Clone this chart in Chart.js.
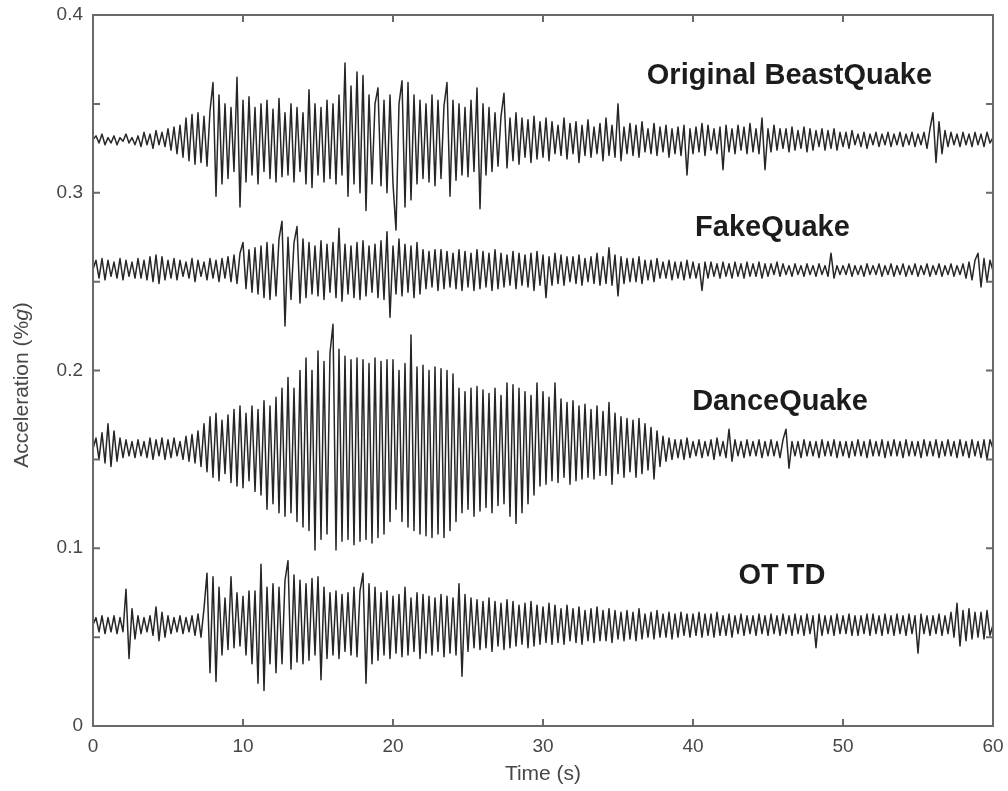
<!DOCTYPE html>
<html>
<head>
<meta charset="utf-8">
<title>Acceleration traces</title>
<script src="https://cdn.jsdelivr.net/npm/chart.js@4.4.0/dist/chart.umd.min.js"></script>
<style>
  html, body { margin: 0; padding: 0; background: #fff; }
  #wrap { width: 1008px; height: 791px; position: relative; }
</style>
</head>
<body>
<div id="wrap"><canvas id="quakeChart" width="1008" height="791"></canvas></div>
<script>
// Sampling step of the traces (s)
const sampleStep = 0.2;

// Acceleration (%g), one value every 0.2 s from 0 to 60 s
const beastQuake = [
  .330,.332,.328,.333,.327, .331,.328,.332,.327,.331,
  .329,.333,.328,.331,.327, .332,.326,.334,.327,.333,
  .325,.335,.327,.334,.326, .336,.324,.337,.322,.338,
  .320,.342,.318,.344,.316, .345,.317,.343,.315,.346,
  .362,.298,.355,.305,.350, .308,.348,.312,.365,.292,
  .352,.306,.354,.310,.348, .305,.350,.312,.352,.308,
  .347,.306,.353,.309,.345, .310,.350,.306,.348,.312,
  .345,.305,.358,.303,.350, .310,.348,.306,.352,.308,
  .350,.305,.355,.310,.373, .298,.360,.305,.368,.300,
  .366,.290,.355,.305,.350, .359,.304,.352,.300,.355,
  .305,.279,.350,.363,.292, .362,.296,.355,.305,.352,
  .308,.350,.306,.355,.304, .352,.308,.349,.362,.298,
  .352,.307,.350,.310,.348, .309,.352,.312,.359,.291,
  .350,.310,.348,.312,.345, .315,.343,.356,.314,.342,
  .318,.345,.316,.342,.320, .341,.317,.343,.319,.340,
  .320,.342,.318,.340,.322, .338,.321,.342,.319,.339,
  .322,.340,.317,.338,.321, .341,.320,.337,.322,.339,
  .318,.342,.321,.338,.320, .350,.318,.337,.322,.339,
  .321,.338,.320,.340,.323, .336,.322,.339,.321,.337,
  .323,.338,.320,.336,.322, .337,.321,.338,.310,.336,
  .322,.337,.323,.339,.321, .338,.324,.336,.322,.337,
  .313,.338,.323,.336,.322, .338,.324,.337,.322,.339,
  .323,.336,.322,.342,.313, .336,.323,.338,.324,.336,
  .325,.336,.323,.337,.324, .335,.325,.337,.323,.336,
  .324,.335,.326,.336,.324, .335,.325,.336,.324,.334,
  .326,.334,.325,.335,.327, .333,.326,.334,.325,.333,
  .327,.334,.326,.333,.327, .334,.326,.333,.327,.334,
  .326,.333,.327,.334,.326, .333,.327,.334,.325,.336,
  .345,.317,.340,.322,.335, .326,.334,.327,.333,.326,
  .334,.327,.333,.326,.334, .327,.333,.326,.334,.328,
  .331
];

const fakeQuake = [
  .257,.262,.252,.263,.251, .262,.253,.261,.252,.263,
  .251,.262,.253,.261,.252, .263,.252,.262,.251,.264,
  .250,.265,.249,.264,.251, .262,.252,.263,.251,.262,
  .253,.261,.252,.263,.250, .262,.253,.261,.251,.263,
  .252,.262,.250,.263,.252, .264,.250,.265,.249,.266,
  .272,.246,.268,.244,.269, .243,.270,.241,.272,.240,
  .271,.242,.274,.284,.225, .275,.240,.272,.281,.238,
  .274,.241,.272,.243,.270, .242,.273,.240,.271,.244,
  .272,.241,.280,.239,.271, .243,.270,.241,.272,.240,
  .273,.242,.270,.244,.271, .241,.273,.240,.278,.230,
  .270,.243,.274,.242,.271, .244,.270,.241,.272,.243,
  .268,.246,.267,.247,.268, .245,.268,.246,.267,.247,
  .266,.246,.268,.245,.267, .247,.266,.245,.268,.246,
  .267,.247,.266,.245,.268, .246,.266,.247,.265,.248,
  .267,.246,.266,.248,.265, .247,.266,.245,.267,.248,
  .265,.241,.264,.248,.266, .249,.265,.248,.264,.250,
  .264,.249,.265,.248,.263, .250,.264,.249,.266,.248,
  .264,.249,.269,.248,.265, .242,.264,.249,.263,.250,
  .263,.250,.264,.249,.262, .251,.262,.250,.263,.252,
  .261,.252,.262,.251,.261, .252,.261,.251,.262,.252,
  .261,.252,.260,.245,.261, .252,.261,.253,.260,.252,
  .261,.253,.260,.252,.261, .253,.260,.252,.261,.253,
  .260,.253,.261,.252,.260, .253,.260,.254,.261,.253,
  .260,.254,.259,.253,.260, .254,.259,.253,.260,.254,
  .259,.253,.260,.254,.259, .253,.266,.252,.259,.254,
  .259,.254,.260,.253,.259, .254,.259,.253,.260,.254,
  .259,.254,.260,.253,.259, .254,.260,.253,.259,.254,
  .260,.253,.259,.254,.260, .253,.259,.254,.260,.253,
  .259,.254,.260,.253,.259, .254,.260,.253,.259,.254,
  .260,.252,.261,.251,.262, .266,.247,.263,.250,.262,
  .256
];

const danceQuake = [
  .156,.162,.150,.165,.148, .170,.146,.166,.149,.162,
  .151,.161,.152,.160,.151, .161,.152,.160,.151,.162,
  .150,.161,.152,.162,.150, .161,.151,.162,.152,.160,
  .150,.163,.149,.164,.148, .166,.146,.170,.143,.174,
  .140,.176,.138,.172,.142, .175,.137,.178,.135,.180,
  .134,.176,.138,.180,.132, .178,.130,.183,.122,.180,
  .125,.185,.120,.190,.118, .196,.120,.190,.115,.200,
  .112,.207,.110,.200,.099, .211,.105,.205,.108,.210,
  .226,.099,.212,.104,.208, .105,.206,.102,.207,.104,
  .206,.105,.204,.103,.207, .106,.205,.108,.206,.115,
  .206,.122,.200,.115,.204, .112,.220,.110,.202,.108,
  .203,.107,.200,.106,.202, .108,.201,.106,.200,.110,
  .198,.115,.190,.120,.188, .122,.190,.118,.191,.121,
  .189,.123,.187,.120,.190, .124,.186,.125,.193,.118,
  .192,.114,.190,.120,.188, .125,.186,.130,.193,.135,
  .188,.136,.185,.138,.193, .137,.184,.140,.182,.136,
  .183,.138,.180,.139,.181, .140,.178,.139,.180,.141,
  .177,.141,.182,.136,.176, .142,.174,.140,.173,.143,
  .172,.140,.173,.142,.170, .144,.168,.139,.166,.146,
  .163,.149,.162,.150,.161, .151,.161,.150,.162,.151,
  .160,.152,.161,.151,.160, .152,.161,.150,.162,.152,
  .160,.151,.167,.149,.161, .152,.160,.151,.161,.152,
  .160,.152,.161,.151,.160, .152,.161,.152,.160,.151,
  .161,.167,.145,.160,.152, .160,.151,.161,.152,.160,
  .152,.160,.151,.161,.152, .160,.152,.161,.151,.160,
  .152,.160,.151,.160,.152, .161,.152,.160,.151,.161,
  .152,.160,.152,.161,.151, .160,.152,.161,.152,.160,
  .151,.161,.152,.160,.152, .160,.151,.161,.152,.160,
  .152,.161,.151,.160,.152, .161,.152,.160,.151,.161,
  .152,.160,.151,.161,.152, .160,.151,.161,.150,.161,
  .156
];

const otTd = [
  .057,.061,.053,.062,.052, .061,.053,.062,.052,.061,
  .053,.077,.038,.066,.049, .062,.052,.061,.053,.062,
  .051,.067,.048,.064,.050, .062,.052,.061,.053,.062,
  .052,.061,.053,.062,.051, .063,.050,.066,.086,.030,
  .084,.025,.078,.040,.072, .043,.084,.044,.075,.045,
  .073,.040,.076,.035,.076, .024,.091,.020,.078,.035,
  .080,.030,.078,.035,.082, .093,.032,.085,.036,.082,
  .035,.080,.037,.083,.040, .084,.026,.078,.038,.075,
  .040,.076,.038,.074,.042, .075,.040,.078,.039,.076,
  .086,.024,.080,.035,.078, .037,.075,.040,.076,.038,
  .073,.041,.074,.039,.078, .040,.072,.042,.075,.038,
  .074,.041,.073,.040,.072, .042,.074,.039,.073,.041,
  .072,.040,.080,.028,.074, .042,.072,.044,.071,.043,
  .070,.044,.072,.042,.070, .045,.069,.043,.071,.044,
  .070,.045,.068,.046,.069, .044,.070,.045,.068,.046,
  .067,.047,.069,.046,.068, .047,.066,.046,.068,.048,
  .066,.047,.067,.046,.065, .048,.066,.047,.067,.048,
  .065,.048,.066,.047,.065, .049,.064,.048,.065,.049,
  .064,.048,.066,.049,.063, .050,.064,.049,.065,.050,
  .063,.050,.064,.049,.063, .050,.064,.051,.063,.050,
  .063,.051,.064,.050,.063, .051,.063,.050,.064,.051,
  .062,.051,.063,.050,.062, .052,.063,.051,.062,.052,
  .062,.051,.063,.052,.062, .051,.063,.052,.062,.051,
  .063,.052,.062,.051,.063, .052,.062,.051,.063,.052,
  .062,.044,.063,.051,.062, .052,.062,.051,.063,.052,
  .062,.052,.063,.051,.062, .051,.062,.052,.063,.051,
  .063,.052,.062,.051,.063, .052,.062,.051,.063,.052,
  .062,.051,.063,.052,.062, .041,.063,.052,.062,.051,
  .062,.052,.063,.051,.062, .052,.064,.050,.069,.045,
  .065,.048,.066,.049,.064, .050,.064,.049,.065,.051,
  .057
];

// Trace names, and where each name sits (in data units: s, %g)
const seriesNames = ["Original BeastQuake", "FakeQuake", "DanceQuake", "OT TD"];
const nameX = [46.43, 45.3, 45.8, 45.93];
const nameY = [0.361, 0.2757, 0.1778, 0.0799];

// Axis ticks
const xTickValues = [0, 10, 20, 30, 40, 50, 60];
const yTickValues = [0, 0.05, 0.1, 0.15, 0.2, 0.25, 0.3, 0.35, 0.4];

const fontFamily = '"Liberation Sans", Arial, Helvetica, sans-serif';
const axisColor = "#6a6a6a";
const textColor = "#474747";
const traceColor = "#262626";

// Time of every sample
const times = beastQuake.map((_, i) => i * sampleStep);

function toPoints(values) {
  return values.map((v, i) => ({ x: times[i], y: v }));
}

// Frame, inward ticks, trace names and the y title (with italic g)
const frameAndLabels = {
  id: "frameAndLabels",
  afterDraw(chart) {
    const { ctx, chartArea: a, scales } = chart;
    const x = scales.x;
    const y = scales.y;
    ctx.save();

    ctx.strokeStyle = axisColor;
    ctx.lineWidth = 2;
    ctx.strokeRect(a.left, a.top, a.right - a.left, a.bottom - a.top);

    ctx.beginPath();
    xTickValues.slice(1, -1).forEach((v) => {
      const px = x.getPixelForValue(v);
      ctx.moveTo(px, a.bottom);
      ctx.lineTo(px, a.bottom - 7);
      ctx.moveTo(px, a.top);
      ctx.lineTo(px, a.top + 7);
    });
    yTickValues.slice(1, -1).forEach((v) => {
      const py = y.getPixelForValue(v);
      ctx.moveTo(a.left, py);
      ctx.lineTo(a.left + 7, py);
      ctx.moveTo(a.right, py);
      ctx.lineTo(a.right - 7, py);
    });
    ctx.stroke();

    ctx.fillStyle = "#1c1c1c";
    ctx.font = "bold 29px " + fontFamily;
    ctx.textAlign = "center";
    ctx.textBaseline = "alphabetic";
    seriesNames.forEach((name, i) => {
      ctx.fillText(name, x.getPixelForValue(nameX[i]), y.getPixelForValue(nameY[i]));
    });

    // y title: "Acceleration (%g)" with the g in italics
    const parts = [
      { text: "Acceleration (%", font: "21px " + fontFamily },
      { text: "g", font: "italic 21px " + fontFamily },
      { text: ")", font: "21px " + fontFamily },
    ];
    let total = 0;
    parts.forEach((p) => {
      ctx.font = p.font;
      p.width = ctx.measureText(p.text).width;
      total += p.width;
    });
    ctx.translate(22, 385);
    ctx.rotate(-Math.PI / 2);
    ctx.fillStyle = textColor;
    ctx.textAlign = "left";
    ctx.textBaseline = "middle";
    let pos = -total / 2;
    parts.forEach((p) => {
      ctx.font = p.font;
      ctx.fillText(p.text, pos, 0);
      pos += p.width;
    });

    ctx.restore();
  },
};

const ctx = document.getElementById("quakeChart").getContext("2d");

const traceStyle = {
  borderColor: traceColor,
  borderWidth: 1.5,
  borderJoinStyle: "round",
  pointRadius: 0,
  tension: 0,
  fill: false,
};

new Chart(ctx, {
  type: "line",
  data: {
    datasets: [
      { label: seriesNames[0], data: toPoints(beastQuake), ...traceStyle },
      { label: seriesNames[1], data: toPoints(fakeQuake), ...traceStyle },
      { label: seriesNames[2], data: toPoints(danceQuake), ...traceStyle },
      { label: seriesNames[3], data: toPoints(otTd), ...traceStyle },
    ],
  },
  options: {
    responsive: false,
    animation: false,
    layout: { padding: { top: 15, right: 15, left: 0, bottom: 0 } },
    plugins: {
      legend: { display: false },
      tooltip: { enabled: false },
    },
    scales: {
      x: {
        type: "linear",
        min: 0,
        max: 60,
        afterFit(scale) {
          scale.height = 65;
          scale.paddingLeft = 0;
          scale.paddingRight = 0;
        },
        afterBuildTicks(scale) { scale.ticks = xTickValues.map((v) => ({ value: v })); },
        grid: { display: false, drawTicks: false },
        border: { display: false },
        ticks: {
          padding: 9,
          color: textColor,
          font: { family: fontFamily, size: 19 },
          maxRotation: 0,
          callback: (v) => String(v),
        },
        title: {
          display: true,
          text: "Time (s)",
          color: textColor,
          font: { family: fontFamily, size: 21 },
          padding: { top: 0, bottom: 4 },
        },
      },
      y: {
        min: 0,
        max: 0.4,
        afterFit(scale) {
          scale.width = 93;
          scale.paddingTop = 0;
          scale.paddingBottom = 0;
        },
        afterBuildTicks(scale) {
          scale.ticks = yTickValues.filter((v, i) => i % 2 === 0).map((v) => ({ value: v }));
        },
        grid: { display: false, drawTicks: false },
        border: { display: false },
        ticks: {
          padding: 10,
          color: textColor,
          font: { family: fontFamily, size: 19 },
          callback: (v) => (v === 0 ? "0" : v.toFixed(1)),
        },
      },
    },
  },
  plugins: [frameAndLabels],
});
</script>
</body>
</html>
